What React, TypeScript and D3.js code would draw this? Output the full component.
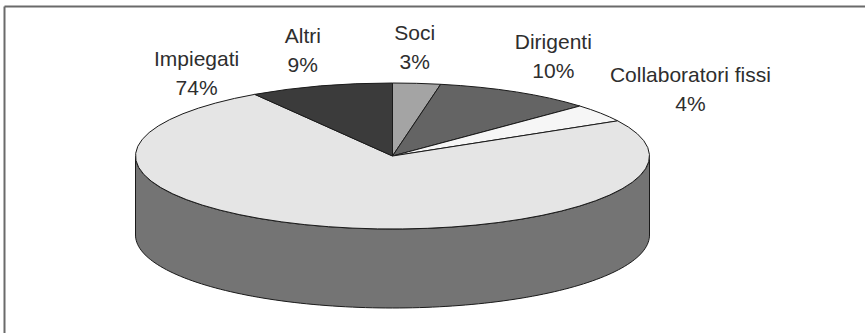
import React from "react";
import * as d3 from "d3";

// Staff composition, clockwise from twelve o'clock
const categories = ["Soci", "Dirigenti", "Collaboratori fissi", "Impiegati", "Altri"];
const shares = [3, 10, 4, 74, 9];
const percentLabels = ["3%", "10%", "4%", "74%", "9%"];

// Slice fills (top faces); side walls are a darker shade of the same tone
const fills = ["#a4a4a4", "#646464", "#f6f6f6", "#e5e5e5", "#3b3b3b"];

// Label placement: nudge from the slice's mid-angle rim point
const labelNudge: [number, number][] = [
  [-2, -37],
  [37, -37],
  [90, -25],
  [-132, -154],
  [-18, -36],
];

const W = 865;
const H = 333;
const CX = 392.5;
const CY = 156;
const RX = 257;
const RY = 73;
const DEPTH = 79;
const FONT = 21;
const LINE_GAP = 29;

const rim = (a: number, dy = 0): [number, number] => [
  CX + RX * Math.sin(a),
  CY - RY * Math.cos(a) + dy,
];

export default function App() {
  const pie = d3
    .pie<number>()
    .sort(null)
    .value((d) => d)
    .startAngle(0)
    .endAngle(2 * Math.PI);
  const slices = pie(shares);

  // Top faces: circular arcs squashed vertically into the ellipse
  const arc = d3.arc<d3.PieArcDatum<number>>().innerRadius(0).outerRadius(RX);

  // Front wall segments (angles between 90° and 270° face the viewer)
  const line = d3.line();
  const sides = slices
    .map((s, i) => {
      const a0 = Math.max(s.startAngle, Math.PI / 2);
      const a1 = Math.min(s.endAngle, (3 * Math.PI) / 2);
      if (a0 >= a1) return null;
      const steps = d3.range(0, 121).map((k) => a0 + ((a1 - a0) * k) / 120);
      const pts: [number, number][] = [
        ...steps.map((a) => rim(a)),
        ...steps.slice().reverse().map((a) => rim(a, DEPTH)),
      ];
      return { i, d: line(pts) + "Z" };
    })
    .filter(Boolean) as { i: number; d: string }[];

  return (
    <svg
      width={W}
      height={H}
      style={{ position: "absolute", left: 0, top: 0, background: "#fff" }}
      fontFamily="'Liberation Sans', Arial, sans-serif"
    >
      {/* frame */}
      <line x1={4.5} y1={6.5} x2={W} y2={6.5} stroke="#6a6a6a" strokeWidth={2} />
      <line x1={4.5} y1={6.5} x2={4.5} y2={H} stroke="#6a6a6a" strokeWidth={2} />

      {/* side walls */}
      {sides.map((s) => (
        <path
          key={"side" + s.i}
          d={s.d}
          fill={d3.color(fills[s.i])!.darker(1.9).formatHex()}
          stroke="#1a1a1a"
          strokeWidth={1}
          strokeLinejoin="round"
        />
      ))}

      {/* top faces */}
      <g transform={`translate(${CX},${CY}) scale(1,${RY / RX})`}>
        {slices.map((s, i) => (
          <path
            key={"top" + i}
            d={arc(s) || ""}
            fill={fills[i]}
            stroke="#1a1a1a"
            strokeWidth={1}
            vectorEffect="non-scaling-stroke"
            strokeLinejoin="round"
          />
        ))}
      </g>

      {/* data labels */}
      {slices.map((s, i) => {
        const mid = (s.startAngle + s.endAngle) / 2;
        const [px, py] = rim(mid);
        const x = px + labelNudge[i][0];
        const y = py + labelNudge[i][1];
        return (
          <text
            key={"lab" + i}
            x={x}
            textAnchor="middle"
            fontSize={FONT}
            fill="#2e2e2e"
          >
            <tspan x={x} y={y - 6.5}>
              {categories[i]}
            </tspan>
            <tspan x={x} y={y - 6.5 + LINE_GAP}>
              {percentLabels[i]}
            </tspan>
          </text>
        );
      })}
    </svg>
  );
}
